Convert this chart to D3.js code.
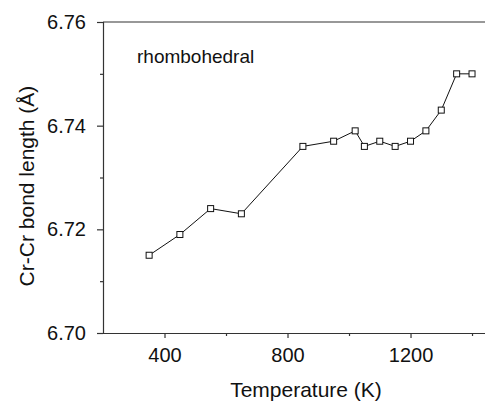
<!DOCTYPE html>
<html>
<head>
<meta charset="utf-8">
<script src="https://cdn.jsdelivr.net/npm/d3@7"></script>
<style>
  body { margin: 0; background: #fff; }
  text { font-family: "Liberation Sans", Arial, sans-serif; fill: #111; }
</style>
</head>
<body>
<div id="chart"></div>
<script>
// Chart size
var w = 485;
var h = 405;

// Data
var temperatures = [350, 450, 550, 650, 850, 950, 1020, 1050, 1100, 1150, 1200, 1250, 1300, 1350, 1400];
var bondLengths = [6.715, 6.719, 6.724, 6.723, 6.736, 6.737, 6.739, 6.736, 6.737, 6.736, 6.737, 6.739, 6.743, 6.750, 6.750];
var xMajorTicks = [400, 800, 1200];
var xMinorTicks = [600, 1000, 1400];
var yMajorTicks = [6.70, 6.72, 6.74, 6.76];
var yMinorTicks = [6.71, 6.73, 6.75];
var phaseLabel = "rhombohedral";

var points = temperatures.map(function (t, i) {
    return { t: t, v: bondLengths[i] };
});

// Scales
var xScale = d3.scaleLinear().domain([200, 1450]).range([103, 487.4]);
var yScale = d3.scaleLinear().domain([6.70, 6.76]).range([333, 22]);

var svg = d3.select("#chart")
    .append("svg")
    .attr("width", w)
    .attr("height", h);

// Top frame line
svg.append("line")
    .attr("x1", xScale(200)).attr("x2", w)
    .attr("y1", yScale(6.76)).attr("y2", yScale(6.76))
    .attr("stroke", "#333").attr("stroke-width", 1.2);

// Left axis with major ticks, then minor ticks
svg.append("g")
    .attr("transform", "translate(" + xScale(200) + ",0)")
    .call(d3.axisLeft(yScale).tickValues(yMajorTicks).tickSize(6).tickPadding(11)
        .tickFormat(d3.format(".2f")));
svg.append("g")
    .attr("transform", "translate(" + xScale(200) + ",0)")
    .call(d3.axisLeft(yScale).tickValues(yMinorTicks).tickSize(3).tickFormat(""))
    .select(".domain").remove();

// Bottom axis with major ticks, then minor ticks
svg.append("g")
    .attr("transform", "translate(0," + yScale(6.70) + ")")
    .call(d3.axisBottom(xScale).tickValues(xMajorTicks).tickSize(5).tickPadding(10)
        .tickSizeOuter(0).tickFormat(d3.format("d")));
svg.append("g")
    .attr("transform", "translate(0," + yScale(6.70) + ")")
    .call(d3.axisBottom(xScale).tickValues(xMinorTicks).tickSize(3).tickFormat(""))
    .select(".domain").remove();

svg.selectAll(".domain, .tick line")
    .attr("stroke", "#333")
    .attr("stroke-width", 1.2);
svg.selectAll(".tick text")
    .attr("font-size", 20)
    .attr("font-family", "Liberation Sans, Arial, sans-serif")
    .attr("fill", "#111");

// Axis titles
svg.append("text")
    .attr("x", 306)
    .attr("y", 397)
    .attr("text-anchor", "middle")
    .attr("font-size", 21)
    .text("Temperature (K)");

svg.append("text")
    .attr("transform", "translate(34," + 186 + ") rotate(-90)")
    .attr("text-anchor", "middle")
    .attr("font-size", 21)
    .text("Cr-Cr bond length (Å)");

// Phase annotation
svg.append("text")
    .attr("x", 137)
    .attr("y", 63)
    .attr("font-size", 19)
    .text(phaseLabel);

// Connecting line
var line = d3.line()
    .x(function (d) { return xScale(d.t); })
    .y(function (d) { return yScale(d.v); });

svg.append("path")
    .datum(points)
    .attr("d", line)
    .attr("fill", "none")
    .attr("stroke", "#111")
    .attr("stroke-width", 1);

// Open square markers
var s = 6;
svg.selectAll("rect.marker")
    .data(points)
    .enter()
    .append("rect")
    .attr("class", "marker")
    .attr("x", function (d) { return xScale(d.t) - s / 2; })
    .attr("y", function (d) { return yScale(d.v) - s / 2; })
    .attr("width", s)
    .attr("height", s)
    .attr("fill", "#fff")
    .attr("stroke", "#111")
    .attr("stroke-width", 1);
</script>
</body>
</html>
